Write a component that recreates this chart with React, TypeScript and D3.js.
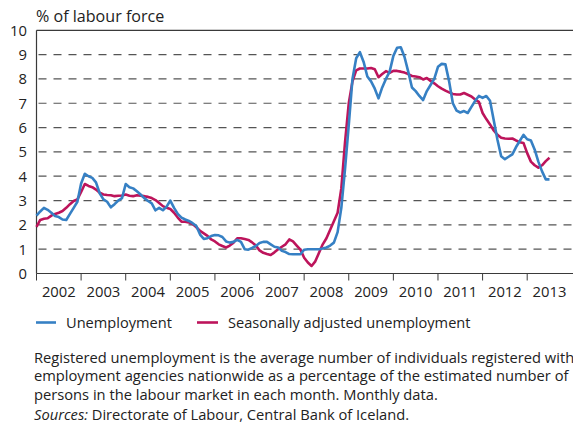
import React from "react";
import * as d3 from "d3";

// Monthly data, Jan 2002 – Jul 2013 (% of labour force)
const unemployment: number[] = [
  // 2002
  2.38, 2.55, 2.7, 2.62, 2.5, 2.36, 2.32, 2.22, 2.2, 2.45, 2.7, 2.95,
  // 2003
  3.7, 4.1, 4.0, 3.93, 3.75, 3.3, 3.05, 2.95, 2.72, 2.85, 3.0, 3.1,
  // 2004
  3.68, 3.55, 3.5, 3.38, 3.25, 3.1, 2.98, 2.88, 2.6, 2.7, 2.6, 2.75,
  // 2005
  3.0, 2.7, 2.45, 2.3, 2.22, 2.16, 2.07, 1.95, 1.6, 1.42, 1.45, 1.54,
  // 2006
  1.58, 1.57, 1.5, 1.32, 1.27, 1.3, 1.38, 1.3, 1.0, 0.98, 1.05, 1.13,
  // 2007
  1.25, 1.3, 1.3, 1.2, 1.1, 1.07, 0.93, 0.88, 0.8, 0.79, 0.79, 0.79,
  // 2008
  0.98, 1.0, 1.0, 1.0, 1.0, 1.03, 1.07, 1.15, 1.27, 1.7, 2.7, 4.3,
  // 2009
  6.1, 8.0, 8.85, 9.1, 8.7, 8.1, 7.9, 7.6, 7.2, 7.65, 8.0, 8.3,
  // 2010
  8.95, 9.28, 9.3, 8.9, 8.3, 7.65, 7.5, 7.3, 7.13, 7.5, 7.75, 8.0,
  // 2011
  8.5, 8.62, 8.6, 7.9, 7.0, 6.7, 6.62, 6.68, 6.6, 6.85, 7.1, 7.3,
  // 2012
  7.22, 7.3, 7.1, 6.3, 5.5, 4.82, 4.7, 4.8, 4.9, 5.2, 5.45, 5.7,
  // 2013
  5.52, 5.47, 5.1, 4.6, 4.2, 3.87, 3.87,
];

const seasonallyAdjusted: number[] = [
  // 2002
  1.92, 2.2, 2.25, 2.27, 2.38, 2.45, 2.5, 2.57, 2.7, 2.85, 2.98, 3.05,
  // 2003
  3.35, 3.68, 3.6, 3.55, 3.45, 3.32, 3.25, 3.23, 3.22, 3.18, 3.2, 3.21,
  // 2004
  3.25, 3.2, 3.18, 3.22, 3.2, 3.18, 3.15, 3.1, 3.02, 2.9, 2.77, 2.7,
  // 2005
  2.65, 2.5, 2.3, 2.13, 2.13, 2.1, 2.03, 1.9, 1.75, 1.65, 1.55, 1.4,
  // 2006
  1.32, 1.2, 1.13, 1.07, 1.15, 1.27, 1.45, 1.45, 1.42, 1.38, 1.28, 1.15,
  // 2007
  0.95, 0.85, 0.8, 0.76, 0.87, 1.0, 1.1, 1.2, 1.4, 1.32, 1.15, 0.98,
  // 2008
  0.65, 0.45, 0.31, 0.5, 0.85, 1.2, 1.45, 1.8, 2.15, 2.5, 3.5, 5.4,
  // 2009
  7.0, 7.9, 8.35, 8.43, 8.43, 8.43, 8.45, 8.4, 8.07, 8.2, 8.32, 8.25,
  // 2010
  8.33, 8.33, 8.3, 8.26, 8.2, 8.12, 8.1, 8.07, 7.98, 8.04, 7.92, 7.82,
  // 2011
  7.7, 7.6, 7.52, 7.45, 7.38, 7.36, 7.36, 7.42, 7.35, 7.28, 7.15, 7.06,
  // 2012
  6.6, 6.35, 6.13, 5.88, 5.7, 5.58, 5.55, 5.54, 5.55, 5.47, 5.4, 5.37,
  // 2013
  4.95, 4.6, 4.45, 4.35, 4.45, 4.62, 4.76,
];

const startYear = 2002;
const yearLabels: string[] = [
  "2002", "2003", "2004", "2005", "2006", "2007",
  "2008", "2009", "2010", "2011", "2012", "2013",
];
const yTicks: number[] = [0, 1, 2, 3, 4, 5, 6, 7, 8, 9, 10];
const gridValues: number[] = [1, 2, 3, 4, 5, 6, 7, 8, 9];

const legendLabels: string[] = ["Unemployment", "Seasonally adjusted unemployment"];
const noteLines: string[] = [
  "Registered unemployment is the average number of individuals registered with",
  "employment agencies nationwide as a percentage of the estimated number of",
  "persons in the labour market in each month. Monthly data.",
];
const sourcesLabel = "Sources:";
const sourcesText = " Directorate of Labour, Central Bank of Iceland.";
const yTitle = "% of labour force";

const BLUE = "#3680c4";
const RED = "#bd145b";
const FONT = "'Open Sans', 'Noto Sans', sans-serif";

export default function App() {
  const W = 573;
  const H = 426;
  const left = 36.5;
  const top = 30.3;
  const bottom = 273.5;

  const x = d3
    .scaleLinear()
    .domain([startYear, startYear + yearLabels.length])
    .range([left, 571.8]);
  const y = d3.scaleLinear().domain([0, 10]).range([bottom, top]);

  const line = d3
    .line<number>()
    .x((_, i) => x(startYear + i / 12))
    .y((d) => y(d))
    .curve(d3.curveLinear);

  const axisColor = "#3a3a3a";

  return (
    <svg
      width={W}
      height={H}
      style={{ position: "absolute", left: 0, top: 0, background: "#fff" }}
      fontFamily={FONT}
    >
      {/* title */}
      <text x={36} y={21.5} fontSize={16.1} fill="#222">
        {yTitle}
      </text>

      {/* gridlines */}
      {gridValues.map((v) => (
        <line
          key={"g" + v}
          x1={left + 2}
          x2={W}
          y1={y(v)}
          y2={y(v)}
          stroke="#555"
          strokeWidth={1.2}
          strokeDasharray="8,7"
        />
      ))}

      {/* frame: top and left, bottom axis */}
      <line x1={left} x2={W} y1={top} y2={top} stroke={axisColor} strokeWidth={1.2} />
      <line x1={left} x2={left} y1={top} y2={bottom} stroke={axisColor} strokeWidth={1.2} />
      <line x1={left} x2={W} y1={bottom} y2={bottom} stroke={axisColor} strokeWidth={1.2} />

      {/* y tick labels */}
      {yTicks.map((v) => (
        <text
          key={"y" + v}
          x={27}
          y={y(v)}
          dy="0.36em"
          textAnchor="end"
          fontSize={14.8}
          fill="#222"
        >
          {v}
        </text>
      ))}

      {/* x ticks and labels */}
      {yearLabels.map((lab, i) => (
        <g key={lab}>
          <line
            x1={x(startYear + i)}
            x2={x(startYear + i)}
            y1={bottom}
            y2={bottom + 7}
            stroke={axisColor}
            strokeWidth={1}
          />
          <text
            x={x(startYear + i + 0.5)}
            y={296.5}
            textAnchor="middle"
            fontSize={14.8}
            fill="#222"
          >
            {lab}
          </text>
        </g>
      ))}

      {/* series */}
      <path
        d={line(seasonallyAdjusted) || ""}
        fill="none"
        stroke={RED}
        strokeWidth={2.6}
        strokeLinejoin="round"
      />
      <path
        d={line(unemployment) || ""}
        fill="none"
        stroke={BLUE}
        strokeWidth={2.6}
        strokeLinejoin="round"
      />

      {/* legend */}
      <line x1={36} x2={56} y1={322.5} y2={322.5} stroke={BLUE} strokeWidth={2.6} />
      <text x={66} y={327.5} fontSize={14.6} fill="#222">
        {legendLabels[0]}
      </text>
      <line x1={197} x2={218} y1={322.5} y2={322.5} stroke={RED} strokeWidth={2.6} />
      <text x={228} y={327.5} fontSize={14.6} fill="#222">
        {legendLabels[1]}
      </text>

      {/* notes */}
      {noteLines.map((t, i) => (
        <text key={"n" + i} x={34} y={362.5 + i * 18.5} fontSize={14.7} fill="#222">
          {t}
        </text>
      ))}
      <text x={34} y={419.5} fontSize={14.7} fill="#222">
        <tspan fontStyle="italic">{sourcesLabel}</tspan>
        <tspan>{sourcesText}</tspan>
      </text>
    </svg>
  );
}
